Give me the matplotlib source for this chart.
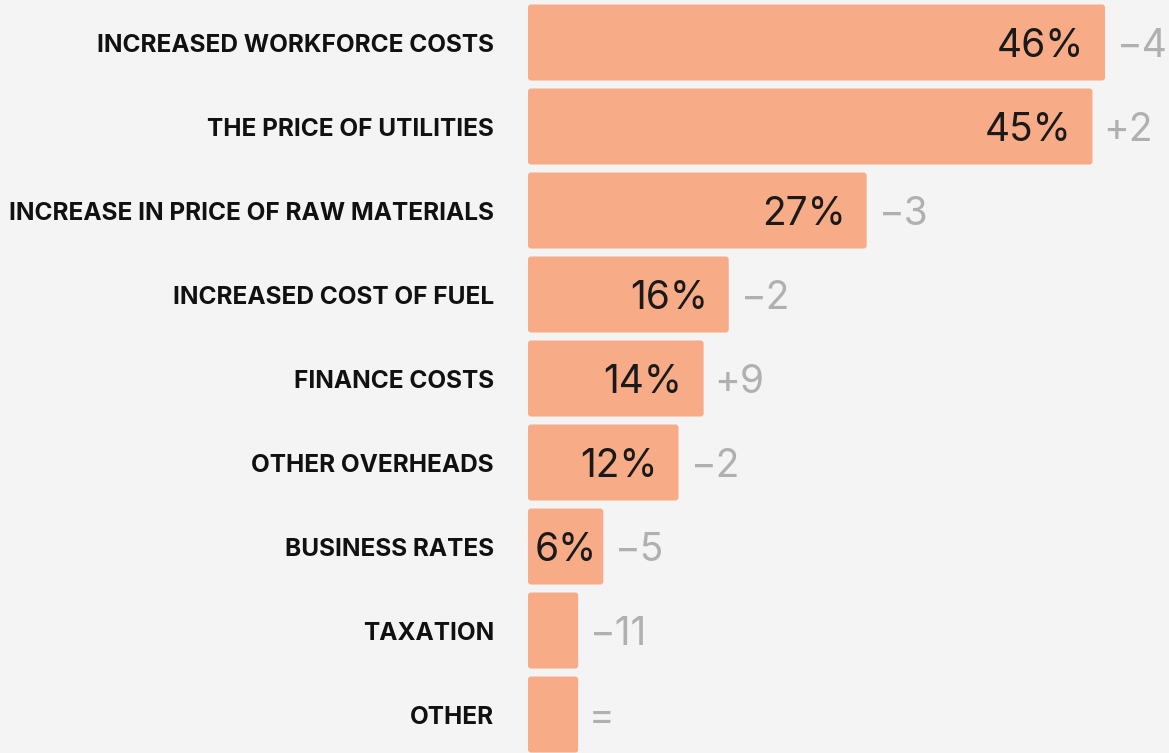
import matplotlib
matplotlib.use("Agg")
import matplotlib.pyplot as plt
from matplotlib.patches import FancyBboxPatch

categories = [
    "INCREASED WORKFORCE COSTS",
    "THE PRICE OF UTILITIES",
    "INCREASE IN PRICE OF RAW MATERIALS",
    "INCREASED COST OF FUEL",
    "FINANCE COSTS",
    "OTHER OVERHEADS",
    "BUSINESS RATES",
    "TAXATION",
    "OTHER",
]
values = [46, 45, 27, 16, 14, 12, 6, 4, 4]
changes = ["\u22124", "+2", "\u22123", "\u22122", "+9", "\u22122", "\u22125", "\u221211", "="]

BG = "#f4f4f4"
BAR = "#f7ab86"
GREY = "#b0b0b0"

plt.rcParams["font.family"] = ["Inter", "DejaVu Sans"]

fig = plt.figure(figsize=(11.69, 7.53), dpi=100, facecolor=BG)
ax = fig.add_axes([528 / 1169, 0, 641 / 1169, 1])
ax.set_facecolor(BG)

pos = list(range(len(categories)))
bars = ax.barh(pos, values, height=0.905, color=BAR)
ax.set_xlim(0, 51.1)
ax.set_ylim(8.458, -0.506)
ax.axis("off")

px = 51.1 / 641   # data units per pixel, x
py = 1 / 84       # data units per pixel, y

# swap the square bars for slightly rounded ones
for b in bars:
    b.set_visible(False)
    ax.add_patch(FancyBboxPatch((b.get_x(), b.get_y()), b.get_width(), b.get_height(),
                                boxstyle=f"round,pad=0,rounding_size={3 * px}",
                                mutation_aspect=py / px, fc=BAR, ec="none"))

for i, (cat, v, ch) in enumerate(zip(categories, values, changes)):
    ax.text(-34 * px, i, cat, ha="right", va="center_baseline", fontsize=17.6,
            fontweight="bold", color="#111111", clip_on=False)
    if v >= 8:
        ax.text(v - 21 * px, i, f"{v}%", ha="right", va="center_baseline",
                fontsize=28, color="#1a1a1a")
    elif v >= 5:
        ax.text(v / 2, i, f"{v}%", ha="center", va="center_baseline",
                fontsize=28, color="#1a1a1a")
    ax.text(v + 11 * px, i, ch, ha="left", va="center_baseline", fontsize=28,
            color=GREY, clip_on=False)

fig.savefig("out.png", dpi=100, facecolor=BG)
